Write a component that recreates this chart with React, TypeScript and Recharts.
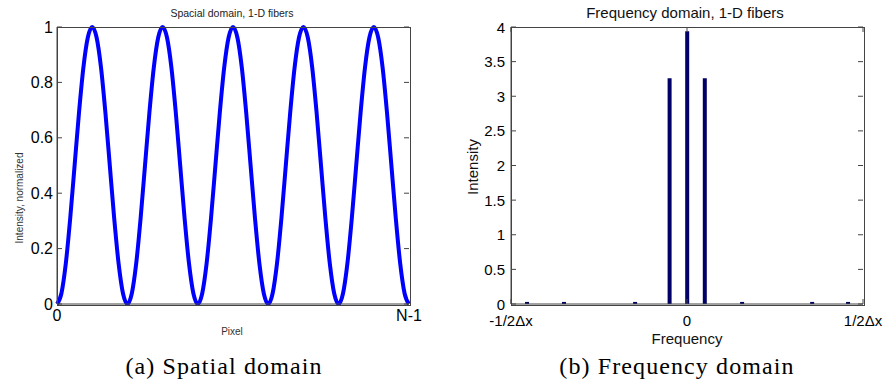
import { Bar, BarChart, Line, LineChart, XAxis, YAxis } from "recharts";

// spatial domain: sampled raised cosine, 5 periods over N pixels
const pixelIndex = [
  0, 1, 2, 3, 4, 5, 6, 7, 8, 9, 10, 11, 12, 13, 14, 15, 16, 17, 18, 19, 20,
  21, 22, 23, 24, 25, 26, 27, 28, 29, 30, 31, 32, 33, 34, 35, 36, 37, 38, 39, 40,
  41, 42, 43, 44, 45, 46, 47, 48, 49, 50, 51, 52, 53, 54, 55, 56, 57, 58, 59, 60,
  61, 62, 63, 64, 65, 66, 67, 68, 69, 70, 71, 72, 73, 74, 75, 76, 77, 78, 79, 80,
];
const intensity = [
  0, 0.038, 0.146, 0.309, 0.5, 0.691, 0.854, 0.962, 1, 0.962, 0.854, 0.691, 0.5, 0.309, 0.146, 0.038,
  0, 0.038, 0.146, 0.309, 0.5, 0.691, 0.854, 0.962, 1, 0.962, 0.854, 0.691, 0.5, 0.309, 0.146, 0.038,
  0, 0.038, 0.146, 0.309, 0.5, 0.691, 0.854, 0.962, 1, 0.962, 0.854, 0.691, 0.5, 0.309, 0.146, 0.038,
  0, 0.038, 0.146, 0.309, 0.5, 0.691, 0.854, 0.962, 1, 0.962, 0.854, 0.691, 0.5, 0.309, 0.146, 0.038,
  0, 0.038, 0.146, 0.309, 0.5, 0.691, 0.854, 0.962, 1, 0.962, 0.854, 0.691, 0.5, 0.309, 0.146, 0.038,
  0,
];
const spatialYTicks = [0, 0.2, 0.4, 0.6, 0.8, 1];

// frequency domain: spectrum (frequency as fraction of 1/Δx)
const frequency = [-0.455, -0.35, -0.148, -0.05, 0, 0.05, 0.156, 0.355, 0.457];
const magnitude = [0.03, 0.03, 0.03, 3.26, 3.94, 3.26, 0.03, 0.03, 0.03];
const freqYTicks = [0, 0.5, 1, 1.5, 2, 2.5, 3, 3.5, 4];
const freqXTicks = [-0.5, 0, 0.5];
const freqXLabels = ["-1/2\u0394x", "0", "1/2\u0394x"];

const spatialData = pixelIndex.map((x, i) => ({ x, y: intensity[i] }));
const freqData = frequency.map((f, i) => ({ f, v: magnitude[i] }));

const sans = "'Liberation Sans', Arial, sans-serif";
const serif = "'Liberation Serif', 'DejaVu Serif', serif";
const frame = "#444";
const PLOT_W = 352;
const PLOT_H = 277;
const TICK = 5;

// y tick: label left of axis plus inward marks on both sides of the box
function yTick(fontSize: number, gap: number) {
  return (p: any) => {
    const ax = p.x + gap;
    return (
      <g>
        <line x1={ax} x2={ax + TICK} y1={p.y} y2={p.y} stroke={frame} />
        <line x1={ax + PLOT_W - TICK} x2={ax + PLOT_W} y1={p.y} y2={p.y} stroke={frame} />
        <text x={p.x} y={p.y} textAnchor="end" dominantBaseline="central" fontSize={fontSize} fontFamily={sans} fill="#000">
          {p.payload.value}
        </text>
      </g>
    );
  };
}

// x tick: label below axis plus inward marks at bottom and top of the box
function xTick(fontSize: number, gap: number, fmt: (v: number) => string, marks: boolean) {
  return (p: any) => {
    const ay = p.y - gap;
    return (
      <g>
        {marks && <line x1={p.x} x2={p.x} y1={ay} y2={ay - TICK} stroke={frame} />}
        {marks && <line x1={p.x} x2={p.x} y1={ay - PLOT_H} y2={ay - PLOT_H + TICK} stroke={frame} />}
        <text x={p.x} y={p.y} dy="0.71em" textAnchor="middle" fontSize={fontSize} fontFamily={sans} fill="#000">
          {fmt(p.payload.value)}
        </text>
      </g>
    );
  };
}

function Txt({ x, y, size, children, rotate, color = "#000", family = sans, spacing = 0 }: any) {
  return (
    <div
      style={{
        position: "absolute",
        left: x,
        top: y,
        transform: `translate(-50%, -50%)${rotate ? " rotate(-90deg)" : ""}`,
        fontSize: size,
        fontFamily: family,
        color,
        whiteSpace: "nowrap",
        lineHeight: 1,
        letterSpacing: spacing,
      }}
    >
      {children}
    </div>
  );
}

function Frame({ left, top, width, height }: any) {
  return (
    <div
      style={{
        position: "absolute",
        left: left - 0.5,
        top: top - 0.5,
        width,
        height,
        border: `1px solid ${frame}`,
        pointerEvents: "none",
      }}
    />
  );
}

export default function App() {
  return (
    <div style={{ position: "absolute", left: 0, top: 0, width: 893, height: 383, background: "#fff" }}>
      <div style={{ position: "absolute", left: 0, top: 0 }}>
        <LineChart width={440} height={383} data={spatialData} margin={{ top: 27, right: 31, bottom: 49, left: 0 }}>
          <XAxis
            dataKey="x"
            type="number"
            domain={[0, 80]}
            ticks={[0, 80]}
            height={30}
            stroke={frame}
            tickLine={false}
            tickSize={0}
            tickMargin={6}
            tick={xTick(16, 6, (v) => (v === 0 ? "0" : "N-1"), false)}
          />
          <YAxis
            type="number"
            domain={[0, 1]}
            ticks={spatialYTicks}
            width={57}
            stroke={frame}
            tickLine={false}
            tickSize={0}
            tickMargin={4}
            tick={yTick(16, 4)}
          />
          <Line dataKey="y" type="monotone" stroke="#0000ff" strokeWidth={4} dot={false} isAnimationActive={false} />
        </LineChart>
      </div>

      <div style={{ position: "absolute", left: 440, top: 0 }}>
        <BarChart width={453} height={383} data={freqData} margin={{ top: 27, right: 30, bottom: 49, left: 0 }} barSize={4}>
          <XAxis
            dataKey="f"
            type="number"
            domain={[-0.5, 0.5]}
            ticks={freqXTicks}
            height={30}
            stroke={frame}
            tickLine={false}
            tickSize={0}
            tickMargin={11}
            tick={xTick(15, 11, (v) => freqXLabels[freqXTicks.indexOf(v)], true)}
          />
          <YAxis
            type="number"
            domain={[0, 4]}
            ticks={freqYTicks}
            width={71}
            stroke={frame}
            tickLine={false}
            tickSize={0}
            tickMargin={6}
            tick={yTick(15, 6)}
          />
          <Bar dataKey="v" fill="#000066" isAnimationActive={false} />
        </BarChart>
      </div>

      <Frame left={57} top={27} width={352} height={277} />
      <Frame left={511} top={27} width={352} height={277} />

      <Txt x={232} y={13} size={10.5} color="#222">Spacial domain, 1-D fibers</Txt>
      <Txt x={20} y={198} size={10} color="#333" rotate>Intensity, normalized</Txt>
      <Txt x={232} y={332} size={10} color="#333">Pixel</Txt>
      <Txt x={224} y={366} size={24} family={serif} spacing={1.1}>(a) Spatial domain</Txt>

      <Txt x={685} y={12} size={15} color="#111">Frequency domain, 1-D fibers</Txt>
      <Txt x={472} y={167} size={15} color="#111" rotate>Intensity</Txt>
      <Txt x={687} y={338} size={15} color="#111">Frequency</Txt>
      <Txt x={677} y={366} size={24} family={serif} spacing={1.1}>(b) Frequency domain</Txt>
    </div>
  );
}
